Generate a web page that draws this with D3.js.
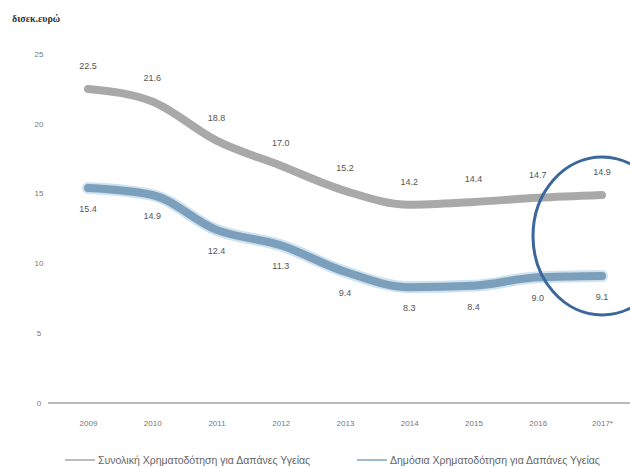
<!DOCTYPE html>
<html lang="el">
<head>
<meta charset="UTF-8">
<title>Χρηματοδότηση για Δαπάνες Υγείας</title>
<script src="https://d3js.org/d3.v7.min.js"></script>
<style>
  body { margin: 0; background: #fff; }
  svg { font-family: "Liberation Sans", Arial, sans-serif; }
</style>
</head>
<body>
<svg width="630" height="468"></svg>
<script>
    // data
    var years = ["2009", "2010", "2011", "2012", "2013", "2014", "2015", "2016", "2017*"];
    var totalFunding = [22.5, 21.6, 18.8, 17.0, 15.2, 14.2, 14.4, 14.7, 14.9];
    var publicFunding = [15.4, 14.9, 12.4, 11.3, 9.4, 8.3, 8.4, 9.0, 9.1];
    var yTicks = [0, 5, 10, 15, 20, 25];
    var seriesNames = ["Συνολική Χρηματοδότηση για Δαπάνες Υγείας", "Δημόσια Χρηματοδότηση για Δαπάνες Υγείας"];

    var svg = d3.select("svg");

    var xscale = d3.scalePoint()
        .domain(years)
        .range([88, 602]);

    var yscale = d3.scaleLinear()
        .domain([0, 25])
        .range([403, 54]);

    // y title
    svg.append("text")
        .attr("x", 12)
        .attr("y", 22)
        .style("font-family", "'Liberation Serif', serif")
        .attr("font-size", 10)
        .attr("font-weight", "bold")
        .attr("fill", "#333")
        .text("δισεκ.ευρώ");

    // y axis labels
    svg.append("g")
        .selectAll("text")
        .data(yTicks)
        .enter().append("text")
        .attr("x", 39)
        .attr("y", function (d) { return yscale(d); })
        .attr("dy", "0.35em")
        .attr("text-anchor", "middle")
        .attr("font-size", 8)
        .attr("fill", "#777")
        .text(function (d) { return d; });

    // x axis
    var xaxis = svg.append("g")
        .attr("transform", "translate(0," + yscale(0) + ")")
        .call(d3.axisBottom(xscale).tickSize(0).tickPadding(17));
    xaxis.select(".domain")
        .attr("d", "M48,0H630")
        .attr("stroke", "#bbb")
        .attr("stroke-width", 2);
    xaxis.selectAll("text")
        .attr("font-size", 8)
        .attr("fill", "#777");

    var line = d3.line()
        .x(function (d, i) { return xscale(years[i]); })
        .y(function (d) { return yscale(d); })
        .curve(d3.curveMonotoneX);

    // gray: total
    svg.append("path")
        .datum(totalFunding)
        .attr("d", line)
        .attr("fill", "none")
        .attr("stroke", "#a9a9a9")
        .attr("stroke-width", 8)
        .attr("stroke-linecap", "round");

    // blue: public (with a light halo)
    svg.append("path")
        .datum(publicFunding)
        .attr("d", line)
        .attr("fill", "none")
        .attr("stroke", "#cfe2f0")
        .attr("stroke-width", 12)
        .attr("stroke-linecap", "round");
    svg.append("path")
        .datum(publicFunding)
        .attr("d", line)
        .attr("fill", "none")
        .attr("stroke", "#7c9fbc")
        .attr("stroke-width", 8)
        .attr("stroke-linecap", "round");

    // value labels
    svg.append("g")
        .selectAll("text")
        .data(totalFunding)
        .enter().append("text")
        .attr("x", function (d, i) { return xscale(years[i]); })
        .attr("y", function (d) { return yscale(d) - 20; })
        .attr("text-anchor", "middle")
        .attr("font-size", 9)
        .attr("fill", "#555")
        .text(function (d) { return d.toFixed(1); });

    svg.append("g")
        .selectAll("text")
        .data(publicFunding)
        .enter().append("text")
        .attr("x", function (d, i) { return xscale(years[i]); })
        .attr("y", function (d) { return yscale(d) + 24; })
        .attr("text-anchor", "middle")
        .attr("font-size", 9)
        .attr("fill", "#555")
        .text(function (d) { return d.toFixed(1); });

    // highlight ellipse round the last year
    svg.append("ellipse")
        .attr("cx", xscale("2017*"))
        .attr("cy", 236)
        .attr("rx", 69)
        .attr("ry", 79)
        .attr("fill", "none")
        .attr("stroke", "#3a679c")
        .attr("stroke-width", 3);

    // legend
    var legend = svg.append("g")
        .selectAll("g")
        .data(seriesNames)
        .enter().append("g")
        .attr("transform", function (d, i) { return "translate(" + (i === 0 ? 65 : 357) + ",460)"; });

    legend.append("line")
        .attr("x1", 0)
        .attr("x2", 30)
        .attr("stroke", function (d, i) { return i === 0 ? "#bdbdbd" : "#9fb9cf"; })
        .attr("stroke-width", 2);

    legend.append("text")
        .attr("x", 33)
        .attr("dy", "0.35em")
        .attr("font-size", 10.5)
        .attr("fill", "#666")
        .text(function (d) { return d; });
</script>
</body>
</html>
